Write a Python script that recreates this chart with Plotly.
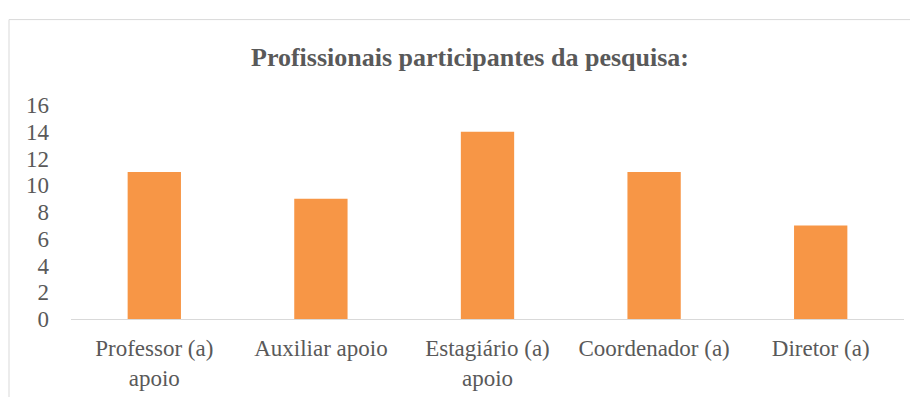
import plotly.graph_objects as go

categories = ["Professor (a)<br>apoio", "Auxiliar apoio", "Estagiário (a)<br>apoio", "Coordenador (a)", "Diretor (a)"]
values = [11, 9, 14, 11, 7]
y_ticks = [0, 2, 4, 6, 8, 10, 12, 14, 16]

# page body has an 8px margin on every side; keep the page inside the window
OFF = 8
W, H = 918 - 2 * OFF, 405 - 2 * OFF
L, T = 71 - OFF, 105 - OFF
R = W - (904 - OFF)
B = H - (328 - OFF)
pw = W - L - R
ph = H - T - B

fig = go.Figure(go.Bar(x=categories, y=values, marker=dict(color="#F79646", line=dict(width=0)), width=0.32))

def px_x(x):
    return (x - OFF - L) / pw

def px_y(y):
    return (H - B - (y - OFF)) / ph

fig.add_shape(type="rect", xref="paper", yref="paper",
              x0=px_x(9), x1=px_x(940), y0=px_y(440), y1=px_y(16),
              line=dict(color="#d9d9d9", width=1), fillcolor="rgba(0,0,0,0)", layer="below")

fig.update_layout(
    width=W, height=H,
    margin=dict(l=L, r=R, t=T, b=B),
    paper_bgcolor="white", plot_bgcolor="white",
    font=dict(family="Liberation Serif", color="#595959", size=23),
    title=dict(text="<b>Profissionais participantes da pesquisa:</b>",
               x=(470 - OFF) / W, xanchor="center", y=1 - (57 - OFF) / H, yanchor="middle",
               font=dict(family="Liberation Serif", size=26, color="#595959")),
    showlegend=False,
    bargap=0.68,
)
fig.update_xaxes(showgrid=False, showline=True, linecolor="#d9d9d9", linewidth=1,
                 ticks="", tickfont=dict(size=23, color="#595959"), ticklabelstandoff=8,
                 range=[-0.5, 4.5])
fig.update_yaxes(showgrid=False, zeroline=False, showline=False, range=[0, 16],
                 tickvals=y_ticks, ticks="", tickfont=dict(size=23, color="#595959"),
                 ticklabelstandoff=21)

fig.write_html("out.html")
